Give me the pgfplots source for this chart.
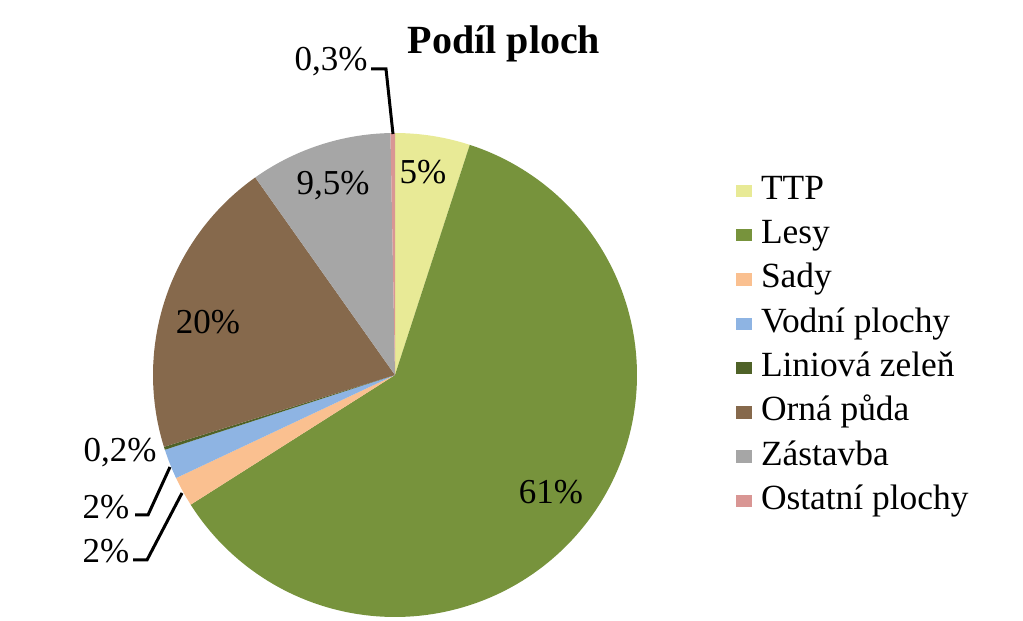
\documentclass[border=0pt]{standalone}
\usepackage{fontspec}
\setmainfont{Liberation Serif}
\usepackage{pgfplots}
\usepackage{pgfplotstable}
\pgfplotsset{compat=1.18}

\definecolor{cTTP}{RGB}{232,234,150}
\definecolor{cLesy}{RGB}{119,147,60}
\definecolor{cSady}{RGB}{250,192,144}
\definecolor{cVoda}{RGB}{142,180,227}
\definecolor{cLin}{RGB}{79,98,40}
\definecolor{cOrna}{RGB}{134,105,76}
\definecolor{cZast}{RGB}{166,166,166}
\definecolor{cOst}{RGB}{217,150,148}

\pgfplotstableread{
name value
TTP 5
Lesy 61
Sady 2
Voda 2
Liniova 0.2
Orna 20
Zastavba 9.5
Ostatni 0.3
}\piedata

\newcommand\cumangle{90}
\newcommand\pieslice[3]{%
  \pgfplotstablegetelem{#1}{value}\of\piedata
  \pgfmathsetmacro\aEnd{\cumangle}%
  \pgfmathsetmacro\aStart{\cumangle-3.6*\pgfplotsretval}%
  \pgfmathtruncatemacro\nsamp{max(3,(\aEnd-\aStart)/1.5)}%
  \xdef\cumangle{\aStart}%
  \edef\tmp{\noexpand\addplot[fill=#2, draw=none, domain=\aStart:\aEnd, samples=\nsamp] ({395+242*cos(x)},{246+242*sin(x)}) -- (axis cs:395,246) -- cycle;}%
  \tmp
  \addlegendentry{#3}%
}

\begin{document}
\begin{tikzpicture}[font=\fontsize{17.5}{21}\selectfont]
\begin{axis}[
  width=511.5pt, height=310.5pt, scale only axis,
  xmin=0, xmax=1023, ymin=0, ymax=621,
  hide axis, clip=false,
  legend cell align=left,
  legend style={at={(axis cs:736,448)}, anchor=north west, draw=none, fill=none,
    inner sep=0pt, row sep=4.65pt, column sep=3.5pt,
    font=\fontsize{17.7}{21}\selectfont,
    nodes={inner sep=1pt, text height=12pt, text depth=3.5pt}},
  legend image code/.code={\path[#1] (0pt,-3.1pt) rectangle (7.8pt,3.1pt);},
]
\path (axis cs:0,0) rectangle (axis cs:1023,621);
\pieslice{0}{cTTP}{TTP}
\pieslice{1}{cLesy}{Lesy}
\pieslice{2}{cSady}{Sady}
\pieslice{3}{cVoda}{Vodní plochy}
\pieslice{4}{cLin}{Liniová zeleň}
\pieslice{5}{cOrna}{Orná půda}
\pieslice{6}{cZast}{Zástavba}
\pieslice{7}{cOst}{Ostatní plochy}

\node[font=\fontsize{20}{24}\selectfont\bfseries] at (axis cs:504,577) {Podíl ploch};

\node at (axis cs:423,449) {5\%};
\node at (axis cs:551,129) {61\%};
\node at (axis cs:333,435) {9,5\%};
\node at (axis cs:208,299) {20\%};
\node at (axis cs:331,559) {0,3\%};
\node at (axis cs:120,168) {0,2\%};
\node at (axis cs:106,114) {2\%};
\node at (axis cs:106,70) {2\%};

\draw[line width=1.5pt] (axis cs:371,552) -- (axis cs:386,552) -- (axis cs:393,487);
\draw[line width=1.5pt] (axis cs:135,106) -- (axis cs:148,106) -- (axis cs:170,154);
\draw[line width=1.5pt] (axis cs:133,61) -- (axis cs:147,61) -- (axis cs:182,128);
\end{axis}
\end{tikzpicture}
\end{document}
